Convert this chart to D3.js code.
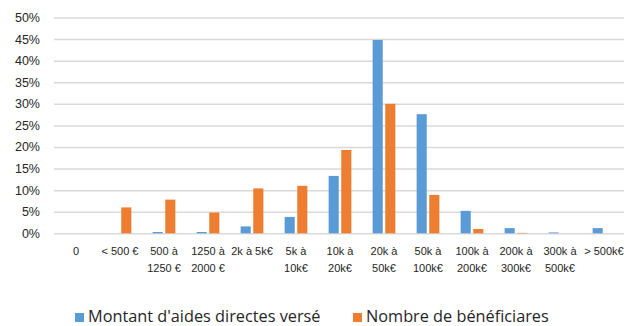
<!DOCTYPE html>
<html>
<head>
<meta charset="utf-8">
<script src="https://cdn.jsdelivr.net/npm/d3@7"></script>
<style>
  html, body { margin: 0; padding: 0; background: #fff; }
  svg { display: block; }
  text { font-family: "Liberation Sans", Arial, sans-serif; fill: #262626; }
  .legend text { font-family: "Open Sans", "Liberation Sans", sans-serif; }
</style>
</head>
<body>
<svg id="chart" width="624" height="326"></svg>
<script>
// Tranches de montant (deux lignes par étiquette)
const categories = [
  ["0"], ["< 500 €"], ["500 à", "1250 €"], ["1250 à", "2000 €"], ["2k à 5k€"],
  ["5k à", "10k€"], ["10k à", "20k€"], ["20k à", "50k€"], ["50k à", "100k€"],
  ["100k à", "200k€"], ["200k à", "300k€"], ["300k à", "500k€"], ["> 500k€"]
];
const montant = [0, 0, 0.3, 0.3, 1.6, 3.8, 13.3, 44.8, 27.6, 5.2, 1.2, 0.2, 1.2];
const beneficiaires = [0, 6.0, 7.8, 4.8, 10.4, 11.0, 19.3, 30.0, 8.9, 1.0, 0.1, 0, 0];
const yTicks = [0, 5, 10, 15, 20, 25, 30, 35, 40, 45, 50];
const seriesNames = ["Montant d'aides directes versé", "Nombre de bénéficiares"];
const colors = ["#5B9BD5", "#ED7D31"];

const svg = d3.select("#chart");
const plotLeft = 54, plotRight = 626, plotTop = 17.5, plotBottom = 233.3;

const x = d3.scaleBand().domain(d3.range(categories.length)).range([plotLeft, plotRight]).paddingInner(0).paddingOuter(0);
const x1 = d3.scaleBand().domain([0, 1]).range([x.bandwidth() / 2 - 12, x.bandwidth() / 2 + 12]).paddingInner(0.2).paddingOuter(0.05);
const y = d3.scaleLinear().domain([0, 50]).range([plotBottom, plotTop]);

// Quadrillage horizontal
const grid = d3.axisLeft(y).tickValues(yTicks).tickSize(-(plotRight - plotLeft)).tickFormat("");
svg.append("g").attr("transform", `translate(${plotLeft},0)`).call(grid)
  .call(g => g.select(".domain").remove())
  .call(g => g.selectAll("line").attr("stroke", "#d9d9d9").attr("stroke-width", 1.5));

// Étiquettes de l'axe vertical
svg.append("g").selectAll("text").data(yTicks).join("text")
  .attr("x", 40).attr("y", d => y(d) + 4.5)
  .attr("text-anchor", "end").attr("font-size", 12.5)
  .text(d => d + "%");

// Barres groupées
const data = categories.map((c, i) => [montant[i], beneficiaires[i]]);
const groups = svg.append("g").selectAll("g").data(data).join("g")
  .attr("transform", (d, i) => `translate(${x(i)},0)`);
groups.selectAll("rect").data(d => d.map((v, k) => ({ v, k }))).join("rect")
  .attr("x", d => x1(d.k))
  .attr("width", x1.bandwidth())
  .attr("y", d => y(d.v))
  .attr("height", d => plotBottom - y(d.v))
  .attr("fill", d => colors[d.k]);

// Étiquettes des catégories
const xl = svg.append("g").selectAll("text").data(categories).join("text")
  .attr("x", (d, i) => x(i) + x.bandwidth() / 2)
  .attr("y", 255)
  .attr("text-anchor", "middle").attr("font-size", 11);
xl.selectAll("tspan").data(d => d).join("tspan")
  .attr("x", function () { return d3.select(this.parentNode).attr("x"); })
  .attr("dy", (d, i) => i === 0 ? 0 : 17)
  .text(d => d);

// Légende
const legendX = [75, 353];
const lg = svg.append("g").attr("class", "legend").selectAll("g").data(seriesNames).join("g")
  .attr("transform", (d, i) => `translate(${legendX[i]},0)`);
lg.append("rect").attr("x", 0).attr("y", 313).attr("width", 9).attr("height", 9)
  .attr("fill", (d, i) => colors[i]);
lg.append("text").attr("x", 13).attr("y", 321.5).attr("font-size", 16.3).text(d => d);
</script>
</body>
</html>
